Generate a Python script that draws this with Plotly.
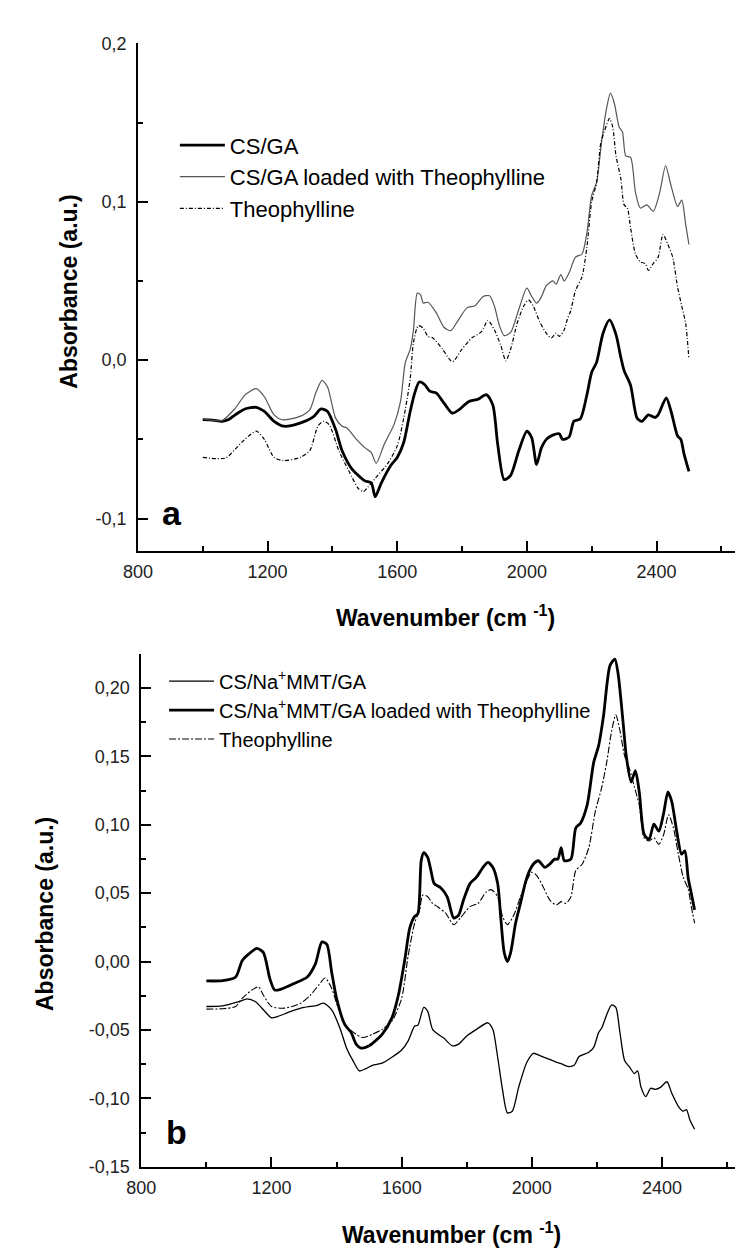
import plotly.graph_objects as go

FONT = "Arial, Liberation Sans, sans-serif"
W, H = 743, 1254

# ---------------- Panel a data ----------------
wn_a_csga = [1000,1030,1060,1080,1100,1130,1165,1190,1220,1250,1300,1340,1365,1385,1410,1430,1460,1500,1520,1532,
             1550,1580,1600,1620,1640,1655,1668,1685,1700,1720,1745,1770,1790,1820,1850,1875,1895,1910,1930,1950,
             1975,2000,2015,2030,2045,2060,2080,2100,2110,2130,2145,2165,2185,2200,2215,2235,2255,2275,2290,2300,
             2320,2340,2355,2375,2395,2405,2430,2445,2465,2475,2485,2500]
abs_a_csga = [-0.0376,-0.0378,-0.0386,-0.0375,-0.0345,-0.0308,-0.0298,-0.0324,-0.0386,-0.0417,-0.0397,-0.036,-0.0308,-0.0324,-0.0438,
              -0.0572,-0.0686,-0.0762,-0.0775,-0.0862,-0.0779,-0.0665,-0.0614,-0.052,-0.0324,-0.02,-0.0138,-0.0155,-0.0196,-0.0207,
              -0.0273,-0.0335,-0.0314,-0.0262,-0.0246,-0.0217,-0.0283,-0.0531,-0.0754,-0.0727,-0.0572,-0.0448,-0.049,-0.0659,-0.0552,
              -0.05,-0.0473,-0.0465,-0.05,-0.0486,-0.0386,-0.037,-0.0221,-0.0076,-0.0014,0.017,0.0254,0.0161,0.0017,-0.0066,
              -0.0159,-0.0366,-0.0386,-0.0345,-0.0362,-0.0345,-0.0238,-0.0324,-0.0479,-0.05,-0.0593,-0.0702]

wn_a_loaded = [1000,1060,1100,1130,1165,1190,1220,1245,1300,1330,1350,1368,1385,1410,1430,1445,1470,1500,1520,1535,
               1560,1590,1610,1625,1640,1650,1662,1672,1680,1695,1720,1745,1765,1790,1815,1840,1865,1885,1900,1915,
               1930,1950,1975,2000,2015,2030,2045,2060,2080,2090,2105,2115,2130,2150,2170,2185,2200,2215,2230,2245,
               2258,2270,2285,2295,2305,2320,2335,2350,2370,2390,2410,2428,2445,2465,2478,2490,2500]
abs_a_loaded = [-0.037,-0.038,-0.0304,-0.0221,-0.018,-0.0231,-0.0345,-0.0376,-0.0355,-0.0314,-0.02,-0.0128,-0.0169,-0.0366,-0.0417,
                -0.0428,-0.049,-0.0552,-0.0583,-0.0651,-0.0531,-0.0407,-0.0262,-0.0014,0.0068,0.019,0.0423,0.0412,0.0361,0.0365,
                0.03,0.0206,0.0186,0.0258,0.033,0.0344,0.0402,0.0406,0.034,0.022,0.0155,0.0175,0.032,0.0454,0.0402,
                0.036,0.04,0.047,0.05,0.048,0.054,0.05,0.055,0.065,0.067,0.08,0.104,0.112,0.137,0.158,
                0.1685,0.162,0.147,0.144,0.129,0.128,0.106,0.096,0.098,0.094,0.106,0.1227,0.11,0.097,0.101,0.0856,0.073]

wn_a_theo = [1000,1070,1100,1130,1165,1190,1220,1250,1300,1330,1355,1372,1390,1420,1450,1480,1495,1510,1540,1570,
             1600,1620,1640,1650,1665,1680,1695,1710,1740,1770,1800,1830,1860,1880,1900,1920,1935,1950,1970,1990,
             2005,2020,2040,2060,2075,2090,2100,2115,2125,2135,2150,2170,2185,2200,2215,2228,2240,2255,2265,2275,
             2290,2300,2310,2320,2335,2350,2365,2375,2390,2405,2420,2435,2450,2465,2478,2490,2500]
abs_a_theo = [-0.0614,-0.0618,-0.0562,-0.05,-0.0448,-0.05,-0.0614,-0.0634,-0.0614,-0.0572,-0.0417,-0.0386,-0.0407,-0.0572,-0.0696,
              -0.081,-0.083,-0.08,-0.0727,-0.0655,-0.0541,-0.0366,-0.0118,0.011,0.0217,0.0202,0.015,0.014,0.0068,-0.001,
              0.007,0.014,0.018,0.025,0.019,0.009,-0.0004,0.007,0.0233,0.034,0.038,0.034,0.024,0.017,0.014,
              0.017,0.015,0.019,0.026,0.031,0.044,0.0526,0.071,0.1,0.112,0.137,0.145,0.1526,0.147,0.129,
              0.1144,0.098,0.096,0.0835,0.067,0.062,0.061,0.0567,0.061,0.065,0.0794,0.073,0.065,0.046,0.034,0.023,0.0006]

# ---------------- Panel b data ----------------
wn_b_mmt = [1000,1050,1100,1125,1150,1180,1200,1220,1260,1300,1340,1360,1385,1410,1430,1450,1470,1490,1510,1540,
            1570,1600,1620,1640,1650,1668,1680,1695,1715,1730,1755,1775,1800,1830,1865,1880,1895,1910,1925,1940,
            1960,1985,2005,2025,2050,2075,2090,2110,2130,2145,2175,2190,2205,2215,2230,2245,2258,2270,2285,2300,
            2315,2325,2335,2350,2365,2380,2395,2415,2430,2450,2465,2475,2485,2500]
abs_b_mmt = [-0.0328,-0.0323,-0.0292,-0.0273,-0.0292,-0.0364,-0.0411,-0.04,-0.0364,-0.0335,-0.032,-0.0304,-0.0352,-0.0483,-0.0627,
             -0.0722,-0.0799,-0.0782,-0.0758,-0.0742,-0.0699,-0.0646,-0.0579,-0.0471,-0.0464,-0.0335,-0.0364,-0.0495,-0.0536,-0.056,
             -0.0615,-0.0603,-0.0543,-0.0495,-0.0447,-0.0495,-0.0699,-0.0938,-0.1105,-0.1093,-0.0914,-0.0734,-0.067,-0.0687,-0.0711,
             -0.0734,-0.0746,-0.0766,-0.0758,-0.0694,-0.0663,-0.0627,-0.0519,-0.0483,-0.0388,-0.0316,-0.0335,-0.0507,-0.0722,-0.077,
             -0.0818,-0.0799,-0.0914,-0.0986,-0.0926,-0.0933,-0.0919,-0.0878,-0.0962,-0.1057,-0.1093,-0.1081,-0.1153,-0.1225]

wn_b_loaded = [1000,1050,1090,1110,1130,1155,1175,1195,1210,1230,1270,1310,1335,1355,1370,1385,1400,1425,1445,1460,
               1475,1500,1540,1570,1590,1610,1625,1640,1650,1660,1668,1680,1690,1700,1720,1740,1760,1775,1790,1810,
               1830,1850,1865,1880,1895,1905,1915,1925,1935,1950,1965,1985,2005,2020,2040,2055,2070,2080,2090,2100,
               2120,2135,2150,2170,2190,2205,2220,2240,2255,2265,2280,2290,2305,2318,2330,2345,2360,2375,2390,2405,
               2418,2430,2445,2460,2470,2480,2490,2500]
abs_b_loaded = [-0.0141,-0.0139,-0.0112,0.0007,0.0055,0.0096,0.0067,-0.0124,-0.0208,-0.0201,-0.016,-0.0112,-0.0017,0.0144,0.0127,
                -0.0077,-0.0268,-0.0459,-0.0519,-0.0603,-0.0632,-0.0615,-0.0531,-0.0411,-0.0244,0.0019,0.0246,0.033,0.035,0.0737,
                0.0797,0.0761,0.0665,0.057,0.054,0.0473,0.0318,0.034,0.045,0.057,0.0617,0.0689,0.0725,0.0689,0.057,
                0.0306,0.0067,0.0,0.0067,0.028,0.0426,0.0617,0.0713,0.0737,0.0689,0.0713,0.0749,0.0749,0.0833,0.0737,
                0.0749,0.0977,0.1013,0.1145,0.1456,0.1576,0.1792,0.2163,0.2211,0.2103,0.1756,0.1504,0.1312,0.1396,0.124,
                0.0929,0.0893,0.1005,0.0953,0.1085,0.124,0.1168,0.0953,0.0785,0.0809,0.0617,0.0497,0.0378]

wn_b_theo = [1000,1050,1090,1110,1140,1160,1175,1200,1240,1290,1320,1345,1365,1385,1405,1430,1460,1480,1510,1540,
             1570,1600,1620,1640,1655,1665,1680,1695,1710,1735,1760,1780,1810,1835,1860,1875,1895,1910,1925,1945,
             1965,1985,2000,2015,2035,2055,2075,2090,2105,2120,2135,2155,2175,2195,2215,2230,2245,2258,2270,2285,
             2300,2315,2330,2345,2360,2375,2390,2405,2420,2435,2450,2465,2480,2490,2500]
abs_b_theo = [-0.0347,-0.0344,-0.0328,-0.0268,-0.0208,-0.0184,-0.0244,-0.0328,-0.034,-0.0304,-0.0244,-0.0172,-0.012,-0.0196,-0.034,
              -0.0471,-0.0531,-0.0555,-0.0531,-0.0495,-0.0435,-0.0268,0.0043,0.0282,0.0378,0.0486,0.0474,0.0426,0.0402,0.0354,
              0.027,0.0318,0.0402,0.0426,0.0509,0.0526,0.0474,0.033,0.027,0.0342,0.0474,0.0593,0.0653,0.0629,0.0545,
              0.045,0.0414,0.0438,0.0426,0.0474,0.0665,0.0713,0.0833,0.1097,0.1276,0.1456,0.1684,0.1803,0.1696,0.1504,
              0.1408,0.1276,0.1145,0.0905,0.0881,0.0905,0.0857,0.0929,0.1073,0.0977,0.0785,0.0617,0.0533,0.0402,0.0282]

# ---------------- Tick labels ----------------
x_tickvals = [800, 1200, 1600, 2000, 2400, 2800]
x_ticktext = ["800", "1200", "1600", "2000", "2400", "2800"]
x_minor = [1000, 1400, 1800, 2200, 2600]
ya_tickvals = [-0.1, 0.0, 0.1, 0.2]
ya_ticktext = ["-0,1", "0,0", "0,1", "0,2"]
ya_minor = [-0.05, 0.05, 0.15]
yb_tickvals = [-0.15, -0.10, -0.05, 0.0, 0.05, 0.10, 0.15, 0.20]
yb_ticktext = ["-0,15", "-0,10", "-0,05", "0,00", "0,05", "0,10", "0,15", "0,20"]
yb_minor = [-0.125, -0.075, -0.025, 0.025, 0.075, 0.125, 0.175, 0.225]

names_a = ["CS/GA", "CS/GA loaded with Theophylline", "Theophylline"]
names_b = ["CS/Na<sup>+</sup>MMT/GA", "CS/Na<sup>+</sup>MMT/GA loaded with Theophylline", "Theophylline"]

fig = go.Figure()
SM = 0.7
fig.add_trace(go.Scatter(x=wn_a_csga, y=abs_a_csga, mode="lines", name=names_a[0],
                         line=dict(color="black", width=2.8, shape="spline", smoothing=SM),
                         xaxis="x", yaxis="y", legend="legend"))
fig.add_trace(go.Scatter(x=wn_a_loaded, y=abs_a_loaded, mode="lines", name=names_a[1],
                         line=dict(color="#555555", width=1.2, shape="spline", smoothing=SM),
                         xaxis="x", yaxis="y", legend="legend"))
fig.add_trace(go.Scatter(x=wn_a_theo, y=abs_a_theo, mode="lines", name=names_a[2],
                         line=dict(color="black", width=1.2, dash="4px,2px,1px,2px", shape="spline", smoothing=SM),
                         xaxis="x", yaxis="y", legend="legend"))

fig.add_trace(go.Scatter(x=wn_b_mmt, y=abs_b_mmt, mode="lines", name=names_b[0],
                         line=dict(color="black", width=1.3, shape="spline", smoothing=SM),
                         xaxis="x2", yaxis="y2", legend="legend2"))
fig.add_trace(go.Scatter(x=wn_b_loaded, y=abs_b_loaded, mode="lines", name=names_b[1],
                         line=dict(color="black", width=2.8, shape="spline", smoothing=SM),
                         xaxis="x2", yaxis="y2", legend="legend2"))
fig.add_trace(go.Scatter(x=wn_b_theo, y=abs_b_theo, mode="lines", name=names_b[2],
                         line=dict(color="black", width=1.1, dash="7px,2px,2px,2px", shape="spline", smoothing=SM),
                         xaxis="x2", yaxis="y2", legend="legend2"))

def px_x(p):
    return p / W

def px_y(p):
    return 1 - p / H

axis_common = dict(showline=True, linecolor="black", linewidth=1.6, ticks="inside", ticklen=10,
                   tickwidth=1.5, tickcolor="black", showgrid=False, zeroline=False,
                   tickfont=dict(family=FONT, size=18, color="#222222"), tickmode="array")

fig.update_layout(
    width=W, height=H, margin=dict(l=0, r=0, t=0, b=0),
    paper_bgcolor="white", plot_bgcolor="white",
    font=dict(family=FONT, color="black"),
    xaxis=dict(domain=[px_x(117.3), 1], range=[800, 2691.5], anchor="y",
               tickvals=x_tickvals, ticktext=x_ticktext,
               minor=dict(tickmode="array", tickvals=x_minor, ticks="inside", ticklen=5, tickwidth=1.5, tickcolor="black"),
               ticklabelstandoff=4, **axis_common),
    yaxis=dict(domain=[px_y(541.7), px_y(25.7)], range=[-0.1205, 0.2], anchor="x",
               tickvals=ya_tickvals, ticktext=ya_ticktext,
               minor=dict(tickmode="array", tickvals=ya_minor, ticks="inside", ticklen=5, tickwidth=1.5, tickcolor="black"),
               ticklabelstandoff=6, **axis_common),
    xaxis2=dict(domain=[px_x(120.7), 1], range=[800, 2673.3], anchor="y2",
                tickvals=x_tickvals, ticktext=x_ticktext,
                minor=dict(tickmode="array", tickvals=x_minor, ticks="inside", ticklen=5, tickwidth=1.5, tickcolor="black"),
                ticklabelstandoff=4, **axis_common),
    yaxis2=dict(domain=[px_y(1167.5), px_y(646)], range=[-0.15, 0.225], anchor="x2",
                tickvals=yb_tickvals, ticktext=yb_ticktext,
                minor=dict(tickmode="array", tickvals=yb_minor, ticks="inside", ticklen=5, tickwidth=1.5, tickcolor="black"),
                ticklabelstandoff=6, **axis_common),
    legend=dict(x=px_x(155), y=px_y(108), xanchor="left", yanchor="top",
                font=dict(family=FONT, size=22, color="black"), bgcolor="rgba(0,0,0,0)",
                borderwidth=0, itemwidth=45, tracegroupgap=0),
    legend2=dict(x=px_x(144), y=px_y(654), xanchor="left", yanchor="top",
                 font=dict(family=FONT, size=20, color="black"), bgcolor="rgba(0,0,0,0)",
                 borderwidth=0, itemwidth=45, tracegroupgap=0),
)

TITLE_FONT = dict(family=FONT, size=23, color="black")
annotations = [
    dict(text="<b>Absorbance (a.u.)</b>", x=px_x(46), y=px_y(278), textangle=-90, font=TITLE_FONT),
    dict(text="<b>Absorbance (a.u.)</b>", x=px_x(23), y=px_y(911), textangle=-90, font=TITLE_FONT),
    dict(text="<b>Wavenumber (cm <sup>-1</sup>)</b>", x=px_x(431), y=px_y(608), font=TITLE_FONT),
    dict(text="<b>Wavenumber (cm <sup>-1</sup>)</b>", x=px_x(437), y=px_y(1235), font=TITLE_FONT),
    dict(text="<b>a</b>", x=px_x(152), y=px_y(503), font=dict(family=FONT, size=34, color="black")),
    dict(text="<b>b</b>", x=px_x(157), y=px_y(1132), font=dict(family=FONT, size=34, color="black")),
]
for a in annotations:
    a.update(xref="paper", yref="paper", xanchor="center", yanchor="middle", showarrow=False)
fig.update_layout(annotations=annotations)

fig.write_html("out.html")
